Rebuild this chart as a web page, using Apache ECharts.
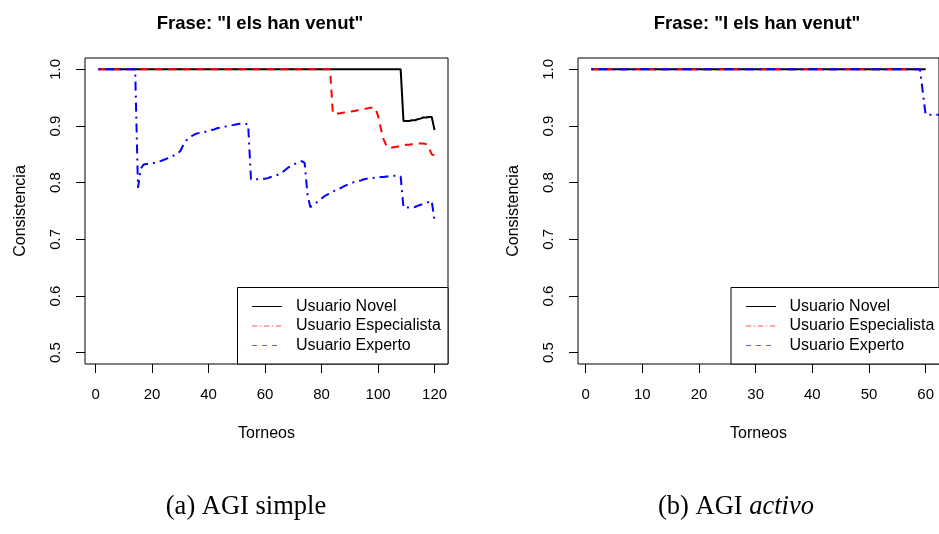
<!DOCTYPE html>
<html>
<head>
<meta charset="utf-8">
<script src="https://cdn.jsdelivr.net/npm/echarts@6/dist/echarts.min.js"></script>
<style>
html,body{margin:0;padding:0;background:#fff;}
#c{width:939px;height:534px;}
</style>
</head>
<body>
<div id="c"></div>
<script>
// ---------- DATA ----------
const chartTitle = 'Frase: "I els han venut"';
const seriesNames = ['Usuario Novel', 'Usuario Especialista', 'Usuario Experto'];
const xTicksA = [0, 20, 40, 60, 80, 100, 120];
const xTicksB = [0, 10, 20, 30, 40, 50, 60];
const yTicks = [0.5, 0.6, 0.7, 0.8, 0.9, 1.0];

// Panel (a) AGI simple: consistencia per torneo 1..120
const novelA = [
  1,1,1,1,1,1,1,1,1,1, 1,1,1,1,1,1,1,1,1,1,
  1,1,1,1,1,1,1,1,1,1, 1,1,1,1,1,1,1,1,1,1,
  1,1,1,1,1,1,1,1,1,1, 1,1,1,1,1,1,1,1,1,1,
  1,1,1,1,1,1,1,1,1,1, 1,1,1,1,1,1,1,1,1,1,
  1,1,1,1,1,1,1,1,1,1, 1,1,1,1,1,1,1,1,1,1,
  1,1,1,1,1,1,1,1,0.909,0.909,
  0.909,0.910,0.910,0.912,0.913,0.915,0.915,0.916,0.916,0.893
];
const especialistaA = [
  1,1,1,1,1,1,1,1,1,1, 1,1,1,1,1,1,1,1,1,1,
  1,1,1,1,1,1,1,1,1,1, 1,1,1,1,1,1,1,1,1,1,
  1,1,1,1,1,1,1,1,1,1, 1,1,1,1,1,1,1,1,1,1,
  1,1,1,1,1,1,1,1,1,1, 1,1,1,1,1,1,1,1,1,1,
  1,1,1,0.922,0.922,0.922,0.923,0.924,0.924,0.925,
  0.926,0.927,0.928,0.929,0.930,0.931,0.932,0.932,0.932,0.918,
  0.895,0.876,0.865,0.861,0.862,0.863,0.864,0.865,0.866,0.867,
  0.867,0.868,0.868,0.869,0.869,0.869,0.868,0.862,0.850,0.848
];
const expertoA = [
  1,1,1,1,1,1,1,1,1,1,
  1,1,1,1,0.791,0.825,0.832,0.833,0.834,0.834,
  0.835,0.837,0.838,0.840,0.842,0.844,0.846,0.849,0.851,0.856,
  0.866,0.874,0.879,0.882,0.885,0.887,0.888,0.889,0.890,0.891,
  0.893,0.894,0.896,0.897,0.898,0.899,0.900,0.901,0.902,0.903,
  0.904,0.904,0.904,0.903,0.806,0.806,0.806,0.806,0.807,0.807,
  0.808,0.810,0.812,0.813,0.815,0.818,0.822,0.826,0.829,0.832,
  0.834,0.836,0.838,0.835,0.780,0.757,0.760,0.764,0.768,0.772,
  0.776,0.779,0.781,0.784,0.787,0.789,0.791,0.794,0.796,0.798,
  0.800,0.802,0.803,0.804,0.806,0.807,0.808,0.808,0.809,0.809,
  0.810,0.810,0.811,0.811,0.812,0.812,0.812,0.811,0.756,0.756,
  0.756,0.756,0.757,0.759,0.761,0.762,0.764,0.766,0.768,0.732
];

// Panel (b) AGI activo: consistencia per torneo
const novelB = [
  1,1,1,1,1,1,1,1,1,1, 1,1,1,1,1,1,1,1,1,1,
  1,1,1,1,1,1,1,1,1,1, 1,1,1,1,1,1,1,1,1,1,
  1,1,1,1,1,1,1,1,1,1, 1,1,1,1,1,1,1,1,1,1
];
const especialistaB = [
  1,1,1,1,1,1,1,1,1,1, 1,1,1,1,1,1,1,1,1,1,
  1,1,1,1,1,1,1,1,1,1, 1,1,1,1,1,1,1,1,1,1,
  1,1,1,1,1,1,1,1,1,1, 1,1,1,1,1,1,1,1,1,1
];
const expertoB = [
  1,1,1,1,1,1,1,1,1,1, 1,1,1,1,1,1,1,1,1,1,
  1,1,1,1,1,1,1,1,1,1, 1,1,1,1,1,1,1,1,1,1,
  1,1,1,1,1,1,1,1,1,1, 1,1,1,1,1,1,1,1,1,0.92,
  0.92,0.92,0.92
];

// ---------- CHART ----------
const SANS = '"Liberation Sans", Arial, Helvetica, sans-serif';
const SERIF = '"Liberation Serif", "Times New Roman", serif';
const pairs = arr => arr.map((v, i) => [i + 1, v]);

function xAxisFor(gridIndex, min, max, ticks) {
  return {
    type: 'value', gridIndex, min, max, position: 'bottom',
    name: 'Torneos', nameLocation: 'middle', nameGap: 62,
    nameTextStyle: { fontFamily: SANS, fontSize: 16, color: '#000' },
    axisLine: { show: false, onZero: false },
    axisTick: { show: true, inside: false, length: 9, customValues: ticks, lineStyle: { color: '#000', width: 1 } },
    axisLabel: { customValues: ticks, margin: 23, fontFamily: SANS, fontSize: 15, color: '#000' },
    splitLine: { show: false }
  };
}
function yAxisFor(gridIndex) {
  return {
    type: 'value', gridIndex, min: 0.48, max: 1.02, position: 'left',
    name: 'Consistencia', nameLocation: 'middle', nameGap: 56,
    nameTextStyle: { fontFamily: SANS, fontSize: 16, color: '#000' },
    axisLine: { show: false, onZero: false },
    axisTick: { show: true, inside: false, length: 9, customValues: yTicks, lineStyle: { color: '#000', width: 1 } },
    axisLabel: { customValues: yTicks, rotate: 90, margin: 22, fontFamily: SANS, fontSize: 15, color: '#000',
      formatter: v => Number(v).toFixed(1) },
    splitLine: { show: false }
  };
}
function lineSeries(name, data, xi, color, type) {
  return {
    name, type: 'line', xAxisIndex: xi, yAxisIndex: xi, data,
    symbol: 'none', clip: true, animation: false,
    lineStyle: { color, width: 2, type }
  };
}

const dashRed = [8, 6];
const dotDashBlue = [2, 5, 9, 5];

const chart = echarts.init(document.getElementById('c'), null, { renderer: 'canvas' });

function legendGraphics(boxLeft, boxRight, lineX1, textX) {
  const top = 287.5, bottom = 364;
  const rows = [306.5, 326, 345.5];
  return [
    { type: 'rect', shape: { x: boxLeft, y: top, width: boxRight - boxLeft, height: bottom - top },
      style: { fill: '#fff', stroke: '#000', lineWidth: 1 }, z: 50 },
    { type: 'line', shape: { x1: lineX1, y1: rows[0], x2: lineX1 + 30, y2: rows[0] }, style: { stroke: '#000000', lineWidth: 1 }, z: 51 },
    { type: 'line', shape: { x1: lineX1, y1: rows[1], x2: lineX1 + 30, y2: rows[1] }, style: { stroke: '#ff5555', lineWidth: 1, lineDash: [5, 3, 1, 3] }, z: 51 },
    { type: 'line', shape: { x1: lineX1, y1: rows[2], x2: lineX1 + 30, y2: rows[2] }, style: { stroke: '#5c5cff', lineWidth: 1, lineDash: [5, 5] }, z: 51 },
    { type: 'text', style: { x: textX, y: rows[0], text: seriesNames[0], font: '16px ' + SANS, fill: '#000', verticalAlign: 'middle' }, z: 51 },
    { type: 'text', style: { x: textX, y: rows[1], text: seriesNames[1], font: '16px ' + SANS, fill: '#000', verticalAlign: 'middle' }, z: 51 },
    { type: 'text', style: { x: textX, y: rows[2], text: seriesNames[2], font: '16px ' + SANS, fill: '#000', verticalAlign: 'middle' }, z: 51 }
  ];
}

const legA = legendGraphics(237.5, 448, 252, 296);
const legB = legendGraphics(731, 1000, 746, 789.5);

chart.setOption({
  animation: false,
  backgroundColor: '#fff',
  title: [
    { text: chartTitle, left: 255, top: 9, textAlign: 'center',
      textStyle: { fontFamily: SANS, fontSize: 18.5, fontWeight: 'bold', color: '#000' } },
    { text: chartTitle, left: 752, top: 9, textAlign: 'center',
      textStyle: { fontFamily: SANS, fontSize: 18.5, fontWeight: 'bold', color: '#000' } },
    { text: '(a) AGI simple', left: 241, top: 489, textAlign: 'center',
      textStyle: { fontFamily: SERIF, fontSize: 26.5, fontWeight: 'normal', color: '#000' } },
    { text: '(b) AGI {i|activo}', left: 731, top: 489, textAlign: 'center',
      textStyle: { fontFamily: SERIF, fontSize: 26.5, fontWeight: 'normal', color: '#000',
        rich: { i: { fontFamily: SERIF, fontSize: 26.5, fontStyle: 'italic', color: '#000' } } } }
  ],
  grid: [
    { left: 85, top: 58, width: 363, height: 306, show: true, borderColor: '#000', borderWidth: 1, backgroundColor: 'transparent', containLabel: false },
    { left: 578, top: 58, width: 363, height: 306, show: true, borderColor: '#000', borderWidth: 1, backgroundColor: 'transparent', containLabel: false }
  ],
  xAxis: [ xAxisFor(0, -3.76, 124.76, xTicksA), xAxisFor(1, -1.36, 62.36, xTicksB) ],
  yAxis: [ yAxisFor(0), yAxisFor(1) ],
  series: [
    lineSeries(seriesNames[0], pairs(novelA), 0, '#000', 'solid'),
    lineSeries(seriesNames[1], pairs(especialistaA), 0, '#ff0000', dashRed),
    lineSeries(seriesNames[2], pairs(expertoA), 0, '#0000ff', dotDashBlue),
    lineSeries(seriesNames[0], pairs(novelB), 1, '#000', 'solid'),
    lineSeries(seriesNames[1], pairs(especialistaB), 1, '#ff0000', dashRed),
    lineSeries(seriesNames[2], pairs(expertoB), 1, '#0000ff', dotDashBlue)
  ],
  graphic: legA.concat(legB)
});
</script>
</body>
</html>
